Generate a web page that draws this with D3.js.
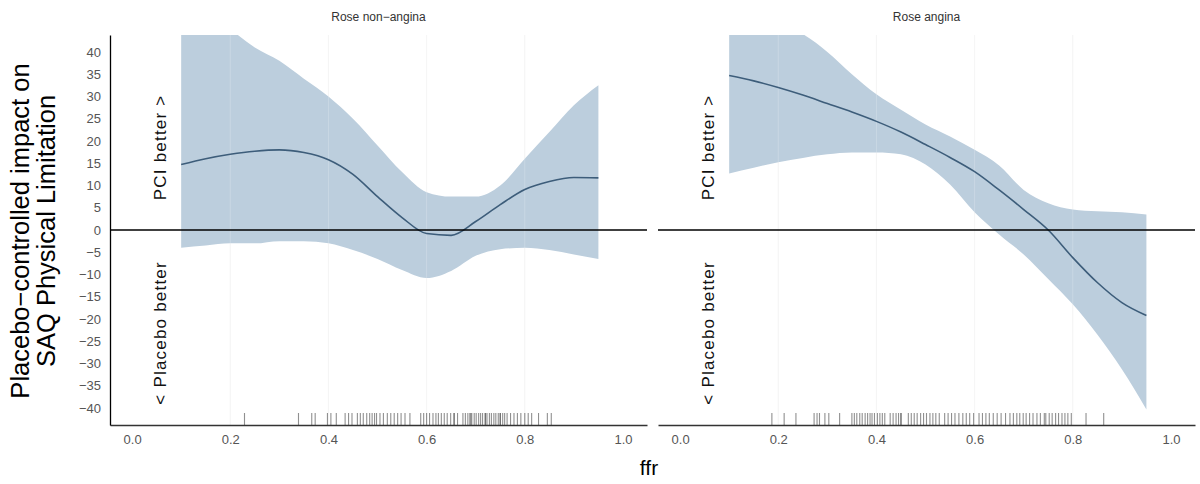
<!DOCTYPE html>
<html>
<head>
<meta charset="utf-8">
<script src="https://cdn.jsdelivr.net/npm/d3@7"></script>
<style>
  body { margin: 0; background: #fff; }
  svg { display: block; font-family: "Liberation Sans", Arial, sans-serif; }
</style>
</head>
<body>
<div id="chart"></div>
<script>
const width = 1200;
const height = 484;

// ffr grid used for the fitted curve and its interval
const ffrGrid = [0.10, 0.15, 0.20, 0.25, 0.30, 0.35, 0.40, 0.45, 0.50, 0.55, 0.60, 0.65, 0.70, 0.75, 0.80, 0.85, 0.90, 0.95];

// Rose non-angina
const nonAnginaMean  = [14.7, 16.0, 17.0, 17.7, 18.0, 17.4, 15.8, 12.5, 7.5, 2.8, -0.8, -1.2, 1.9, 5.7, 9.1, 10.9, 11.8, 11.7];
const nonAnginaLower = [-4.0, -3.5, -3.0, -3.0, -2.5, -2.5, -3.0, -4.5, -6.5, -9.0, -10.8, -9.2, -5.8, -4.3, -4.0, -4.5, -5.5, -6.5];
const nonAnginaUpper = [50, 48, 45, 41, 38, 34, 30, 25, 19, 13, 8.5, 7.5, 7.5, 10, 16, 22, 28, 32.5];

// Rose angina
const anginaMean  = [34.7, 33.5, 32.0, 30.3, 28.4, 26.5, 24.4, 22.0, 19.2, 16.3, 13.1, 9.0, 4.6, 0.0, -6.2, -11.8, -16.3, -19.2];
const anginaLower = [12.7, 14.0, 15.2, 16.2, 17.0, 17.4, 17.4, 17.0, 14.7, 10.2, 4.0, -1.0, -5.5, -11.0, -16.7, -23.5, -31.3, -40.3];
const anginaUpper = [50, 48, 46, 44, 40, 35, 30.5, 27, 23.7, 21, 18, 14.5, 9, 6, 4.6, 4.2, 4.0, 3.5];

// observed ffr values (rug)
const nonAnginaRug = [0.229, 0.339, 0.366, 0.373, 0.398, 0.405, 0.416, 0.434, 0.441, 0.448, 0.459, 0.465, 0.471,
  0.478, 0.484, 0.489, 0.494, 0.498, 0.505, 0.512, 0.52, 0.527, 0.534, 0.541, 0.548, 0.556, 0.566, 0.588, 0.594,
  0.6, 0.606, 0.613, 0.619, 0.624, 0.63, 0.636, 0.642, 0.649, 0.656, 0.656, 0.663, 0.674, 0.679, 0.684, 0.688,
  0.692, 0.69, 0.697, 0.701, 0.706, 0.71, 0.714, 0.719, 0.72, 0.723, 0.728, 0.732, 0.737, 0.741, 0.746, 0.75,
  0.75, 0.755, 0.759, 0.764, 0.771, 0.778, 0.785, 0.792, 0.8, 0.807, 0.814, 0.828, 0.846, 0.854];
const anginaRug = [0.187, 0.212, 0.236, 0.273, 0.279, 0.284, 0.295, 0.303, 0.325, 0.35, 0.355, 0.36, 0.366, 0.371,
  0.377, 0.382, 0.387, 0.391, 0.396, 0.402, 0.407, 0.412, 0.417, 0.428, 0.434, 0.44, 0.445, 0.45, 0.45, 0.465,
  0.471, 0.477, 0.483, 0.49, 0.496, 0.502, 0.509, 0.515, 0.521, 0.528, 0.539, 0.546, 0.553, 0.56, 0.568, 0.576,
  0.583, 0.59, 0.598, 0.609, 0.616, 0.623, 0.63, 0.638, 0.646, 0.654, 0.663, 0.672, 0.679, 0.686, 0.692, 0.699,
  0.705, 0.712, 0.719, 0.727, 0.734, 0.742, 0.745, 0.752, 0.758, 0.765, 0.771, 0.778, 0.784, 0.79, 0.797, 0.827, 0.863];

const panelNames = ["Rose non\u2212angina", "Rose angina"];
const xTicks = [0, 0.2, 0.4, 0.6, 0.8, 1.0];
const yTicks = [40, 35, 30, 25, 20, 15, 10, 5, 0, -5, -10, -15, -20, -25, -30, -35, -40];
const gridX = [0.2, 0.4, 0.6, 0.8];

const panels = [
  { name: panelNames[0], left: 110, mean: nonAnginaMean, lower: nonAnginaLower, upper: nonAnginaUpper, rug: nonAnginaRug },
  { name: panelNames[1], left: 658, mean: anginaMean, lower: anginaLower, upper: anginaUpper, rug: anginaRug }
];

const panelW = 537;
const plotTop = 35, plotBottom = 425;
const bandColor = "#bccedd";
const lineColor = "#3d5d7a";

const svg = d3.select("#chart").append("svg")
  .attr("width", width)
  .attr("height", height);

const y = d3.scaleLinear().domain([-43.8, 43.8]).range([plotBottom, plotTop]);

panels.forEach((p, pi) => {
  const x = d3.scaleLinear().domain([-0.045, 1.049]).range([p.left, p.left + panelW]);
  const g = svg.append("g");

  const clipId = "clip" + pi;
  svg.append("clipPath").attr("id", clipId)
    .append("rect").attr("x", p.left).attr("y", plotTop).attr("width", panelW).attr("height", plotBottom - plotTop);

  const rows = ffrGrid.map((f, i) => ({ f, m: p.mean[i], lo: p.lower[i], hi: p.upper[i] }));

  const plot = g.append("g").attr("clip-path", `url(#${clipId})`);

  // light grid lines under the band
  plot.selectAll(".grid-under").data(gridX).join("line")
    .attr("x1", d => x(d)).attr("x2", d => x(d))
    .attr("y1", plotTop).attr("y2", plotBottom)
    .attr("stroke", "#efefef").attr("stroke-width", 0.8);

  plot.append("path")
    .datum(rows)
    .attr("fill", bandColor)
    .attr("d", d3.area().curve(d3.curveMonotoneX)
      .x(d => x(d.f)).y0(d => y(d.lo)).y1(d => y(d.hi)));

  // grid lines show faintly through the band
  plot.selectAll(".grid-over").data(gridX).join("line")
    .attr("x1", d => x(d)).attr("x2", d => x(d))
    .attr("y1", plotTop).attr("y2", plotBottom)
    .attr("stroke", "#fff").attr("stroke-opacity", 0.25).attr("stroke-width", 0.8);

  plot.append("path")
    .datum(rows)
    .attr("fill", "none")
    .attr("stroke", lineColor)
    .attr("stroke-width", 1.6)
    .attr("d", d3.line().curve(d3.curveMonotoneX).x(d => x(d.f)).y(d => y(d.m)));

  // zero reference line
  g.append("line")
    .attr("x1", p.left).attr("x2", p.left + panelW)
    .attr("y1", y(0)).attr("y2", y(0))
    .attr("stroke", "#000").attr("stroke-width", 1.5);

  // rug
  g.selectAll(".rug").data(p.rug).join("line")
    .attr("x1", d => x(d)).attr("x2", d => x(d))
    .attr("y1", plotBottom - 12).attr("y2", plotBottom)
    .attr("stroke", "#222").attr("stroke-opacity", 0.5).attr("stroke-width", 1.1);

  // bottom axis
  const xAxis = g.append("g")
    .attr("transform", `translate(0,${plotBottom})`)
    .call(d3.axisBottom(x).tickValues(xTicks).tickFormat(d3.format(".1f")).tickSize(0).tickPadding(10));
  xAxis.select(".domain").attr("stroke", "#333").attr("stroke-width", 1.3);
  xAxis.selectAll("text").attr("fill", "#555").attr("font-size", 13).attr("font-family", "Liberation Sans, Arial, sans-serif");

  // panel title
  g.append("text")
    .attr("x", p.left + panelW / 2).attr("y", 21)
    .attr("text-anchor", "middle")
    .attr("fill", "#333").attr("font-size", 12)
    .text(p.name);

  // direction labels
  g.append("text")
    .attr("transform", `translate(${x(0.05) + 9},${y(6.7)}) rotate(-90)`)
    .attr("text-anchor", "start")
    .attr("font-size", 17).attr("letter-spacing", 1.2).attr("fill", "#111")
    .text("PCI better >");
  g.append("text")
    .attr("transform", `translate(${x(0.05) + 9},${y(-7)}) rotate(-90)`)
    .attr("text-anchor", "end")
    .attr("font-size", 17).attr("letter-spacing", 1.2).attr("fill", "#111")
    .text("< Placebo better");

  if (pi === 0) {
    const yAxis = g.append("g")
      .attr("transform", `translate(${p.left},0)`)
      .call(d3.axisLeft(y).tickValues(yTicks).tickSize(0).tickPadding(9));
    yAxis.select(".domain").attr("stroke", "#000").attr("stroke-width", 1.3);
    yAxis.selectAll("text").attr("fill", "#555").attr("font-size", 13).attr("font-family", "Liberation Sans, Arial, sans-serif");
  }
});

// y axis title
svg.append("text")
  .attr("transform", "translate(29,231) rotate(-90)")
  .attr("text-anchor", "middle")
  .attr("font-size", 25.5).attr("fill", "#000")
  .text("Placebo\u2212controlled impact on");
svg.append("text")
  .attr("transform", "translate(55,231) rotate(-90)")
  .attr("text-anchor", "middle")
  .attr("font-size", 25.5).attr("fill", "#000")
  .text("SAQ Physical Limitation");

// x axis title
svg.append("text")
  .attr("x", 649).attr("y", 475)
  .attr("text-anchor", "middle")
  .attr("font-size", 21).attr("fill", "#000")
  .text("ffr");
</script>
</body>
</html>
